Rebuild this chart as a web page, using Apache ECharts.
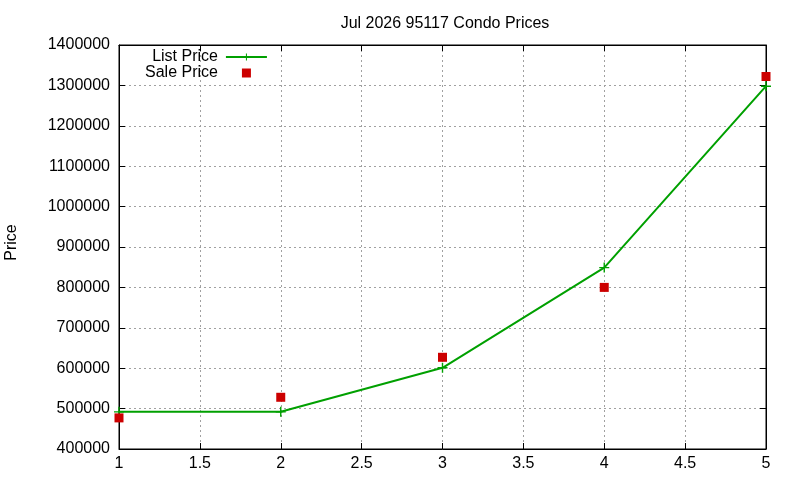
<!DOCTYPE html>
<html>
<head>
<meta charset="utf-8">
<script src="https://cdn.jsdelivr.net/npm/echarts@6/dist/echarts.min.js"></script>
<style>html,body{margin:0;padding:0;background:#fff}#c{width:800px;height:480px}</style>
</head>
<body>
<div id="c"></div>
<script>
var xValues = [1, 2, 3, 4, 5];
var listPrice = [492000, 492000, 601000, 849000, 1298000];
var salePrice = [477000, 528000, 627000, 800000, 1322000];
var titleText = 'Jul 2026 95117 Condo Prices';
var yName = 'Price';

var chart = echarts.init(document.getElementById('c'));
var font = 'Liberation Sans, Arial, sans-serif';
var plus = 'path://M4.3,0h1.4v4.3h4.3v1.4h-4.3v4.3h-1.4v-4.3h-4.3v-1.4h4.3z';
var square = 'path://M0,0h10v10h-10z';
function pairs(vals){ return xValues.map(function(x,i){return [x, vals[i]];}); }
var tickStyle = {show:true, inside:true, length:6, lineStyle:{color:'#000', width:1}};
chart.setOption({
  animation:false,
  backgroundColor:'#fff',
  textStyle:{fontFamily:font},
  title:{text:titleText, left:440, top:11, textAlign:'center',
    textStyle:{fontSize:16, fontWeight:'normal', color:'#000', fontFamily:font}},
  grid:{left:119, right:34, top:45, bottom:31, show:true, borderColor:'#000', borderWidth:1,
    containLabel:false, outerBoundsMode:'none'},
  legend:{orient:'vertical', left:145, top:49, padding:0, align:'right', itemWidth:41, itemHeight:9, itemGap:0,
    symbolKeepAspect:true,
    textStyle:{fontSize:16, lineHeight:15, color:'#000', fontFamily:font, padding:[0,3,0,0]},
    data:[{name:'List Price'},{name:'Sale Price', icon:square}]},
  xAxis:[{type:'value', min:1, max:5, interval:0.5,
    axisLine:{show:true, lineStyle:{color:'#000'}},
    axisTick:tickStyle,
    axisLabel:{color:'#000', fontSize:16, margin:7, fontFamily:font},
    splitLine:{show:true, lineStyle:{color:'#a0a0a0', type:[2,3], width:1}}},
    {type:'value', min:1, max:5, interval:0.5, position:'top',
    axisLine:{show:true, lineStyle:{color:'#000'}}, axisTick:tickStyle, axisLabel:{show:false}, splitLine:{show:false}}],
  yAxis:[{type:'value', min:400000, max:1400000, interval:100000, name:yName,
    nameLocation:'middle', nameGap:99, nameRotate:90,
    nameTextStyle:{fontSize:16, color:'#000', fontFamily:font, padding:[0,0,0,9]},
    axisLine:{show:true, lineStyle:{color:'#000'}},
    axisTick:tickStyle,
    axisLabel:{color:'#000', fontSize:16, margin:9, fontFamily:font, formatter:function(v){return String(v);}},
    splitLine:{show:true, lineStyle:{color:'#a0a0a0', type:[2,3], width:1}}},
    {type:'value', min:400000, max:1400000, interval:100000, position:'right',
    axisLine:{show:true, lineStyle:{color:'#000'}}, axisTick:tickStyle, axisLabel:{show:false}, splitLine:{show:false}}],
  series:[
    {name:'List Price', type:'line', data:pairs(listPrice), symbol:plus, symbolSize:10,
      lineStyle:{color:'#00a000', width:2}, itemStyle:{color:'#00a000'}, z:3},
    {name:'Sale Price', type:'scatter', data:pairs(salePrice), symbol:'rect', symbolSize:9,
      itemStyle:{color:'#cc0000', opacity:1}, z:4}
  ]
});
</script>
</body>
</html>
